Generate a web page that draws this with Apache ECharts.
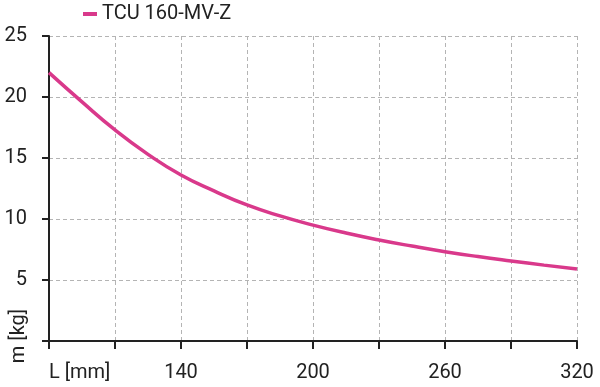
<!DOCTYPE html>
<html>
<head>
<meta charset="utf-8">
<script src="https://cdn.jsdelivr.net/npm/echarts@6/dist/echarts.min.js"></script>
<style>html,body{margin:0;padding:0;background:#fff}#c{width:600px;height:387px}</style>
</head>
<body>
<div id="c"></div>
<script>
const seriesName = 'TCU 160-MV-Z';
const lengths = [80, 95, 110, 125, 140, 155, 170, 185, 200, 215, 230, 245, 260, 275, 290, 305, 320];
const masses = [22.0, 19.6, 17.3, 15.3, 13.6, 12.3, 11.15, 10.25, 9.5, 8.85, 8.28, 7.78, 7.32, 6.92, 6.56, 6.22, 5.9];
const xLabelsShown = [80, 140, 200, 260, 320];
const xFirstLabel = 'L [mm]';
const yLabelsShown = [5, 10, 15, 20, 25];
const yTitle = 'm [kg]';

const font = 'Roboto';
const fs = 20;
const chart = echarts.init(document.getElementById('c'), null, {renderer: 'canvas'});
chart.setOption({
  animation: false,
  textStyle: {fontFamily: font},
  grid: {left: 49, right: 23, top: 36, bottom: 46, containLabel: false},
  legend: {
    left: 78, top: -1, itemWidth: 14, itemHeight: 4, itemGap: 6,
    icon: 'rect',
    textStyle: {fontSize: fs, color: '#222', fontFamily: font},
    data: [seriesName]
  },
  xAxis: {
    type: 'value', min: 80, max: 320, interval: 30,
    axisLine: {show: true, lineStyle: {color: '#222', width: 2}},
    axisTick: {show: true, length: 8, lineStyle: {color: '#222', width: 2}},
    axisLabel: {
      fontSize: fs, color: '#222', margin: 22, alignMinLabel: 'left',
      formatter: v => xLabelsShown.includes(v) ? (v === 80 ? xFirstLabel : String(v)) : ''
    },
    splitLine: {show: true, lineStyle: {color: '#b4b4b4', type: [4, 3], width: 1}}
  },
  yAxis: {
    type: 'value', min: 0, max: 25, interval: 5,
    axisLine: {show: true, lineStyle: {color: '#222', width: 2}},
    axisTick: {show: true, length: 7, lineStyle: {color: '#222', width: 2}},
    axisLabel: {
      fontSize: fs, color: '#222', margin: 22,
      formatter: v => yLabelsShown.includes(v) ? String(v) : ''
    },
    splitLine: {show: true, lineStyle: {color: '#b4b4b4', type: [4, 3], width: 1}}
  },
  graphic: [{
    type: 'text', x: 19, y: 336, rotation: Math.PI / 2,
    style: {text: yTitle, fontSize: fs, fill: '#222', fontFamily: font, align: 'center', verticalAlign: 'middle'}
  }],
  series: [{
    name: seriesName, type: 'line', smooth: true, showSymbol: false,
    lineStyle: {color: '#d9398b', width: 3.5},
    itemStyle: {color: '#d9398b'},
    data: lengths.map((l, i) => [l, masses[i]])
  }]
});
</script>
</body>
</html>
